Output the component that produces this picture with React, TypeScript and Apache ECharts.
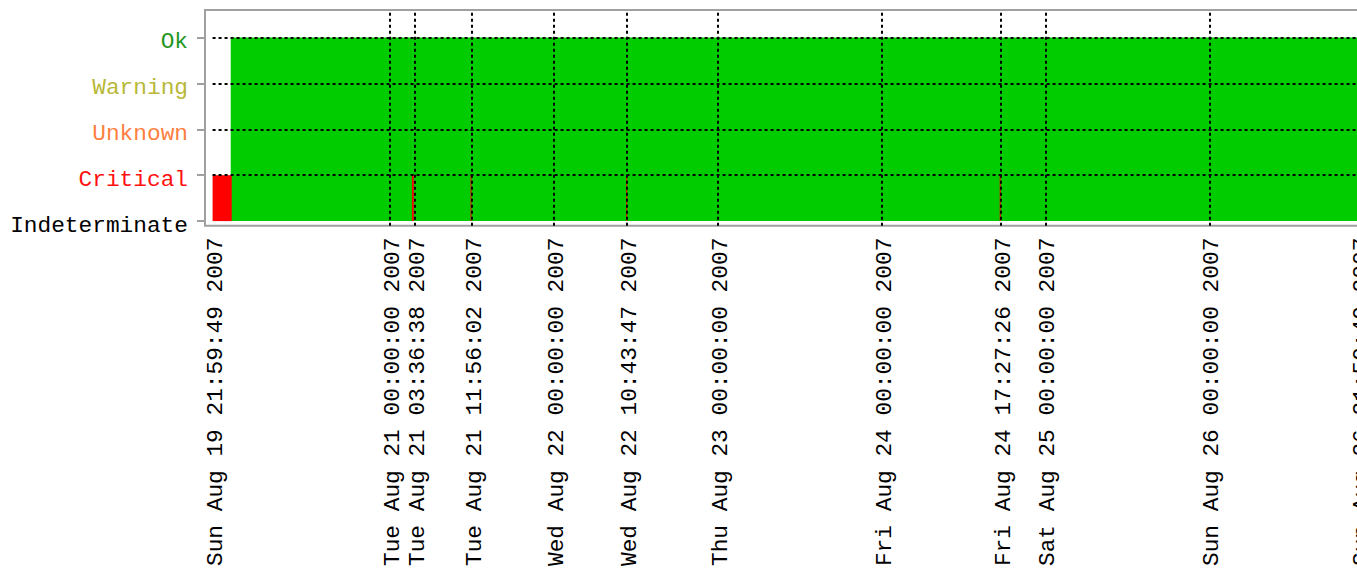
import React, { useEffect, useRef } from "react";
import * as echarts from "echarts";

const S = 1000;
const T = (d: number, h: number, m: number, s: number) => Date.UTC(2007, 7, d, h, m, s);

// Range of the report
const START = T(19, 21, 59, 49);
const END = T(26, 21, 59, 49);
const PAD_SECONDS = 4000;

// State names (y axis categories, bottom to top)
const STATE_NAMES = ["Indeterminate", "Critical", "Unknown", "Warning", "Ok"];
const STATE_LABEL_COLORS = ["#000000", "#ff1010", "#ff7f3f", "#b8b838", "#1f961f"];
const STATE_FILL_COLORS: Record<number, string> = { 1: "#ff0000", 4: "#00cc00" };

// State changes: time and state value (1 = Critical, 4 = Ok)
const CHANGE_TIMES = [
  START,
  T(20, 0, 48, 0),
  T(21, 3, 12, 0),
  T(21, 3, 28, 0),
  T(21, 11, 47, 0),
  T(21, 11, 56, 2),
  T(22, 10, 35, 0),
  T(22, 10, 43, 47),
  T(24, 17, 18, 0),
  T(24, 17, 27, 26),
];
const CHANGE_STATES = [1, 4, 1, 4, 1, 4, 1, 4, 1, 4];

// X axis label ticks
const TICK_TIMES = [
  START,
  T(21, 0, 0, 0),
  T(21, 3, 36, 38),
  T(21, 11, 56, 2),
  T(22, 0, 0, 0),
  T(22, 10, 43, 47),
  T(23, 0, 0, 0),
  T(24, 0, 0, 0),
  T(24, 17, 27, 26),
  T(25, 0, 0, 0),
  T(26, 0, 0, 0),
  END,
];
const GRID_TIMES = TICK_TIMES.slice(1, -1);
const GRID_STATES = [1, 2, 3, 4];

const DAYS = ["Sun", "Mon", "Tue", "Wed", "Thu", "Fri", "Sat"];
const MONTHS = ["Jan", "Feb", "Mar", "Apr", "May", "Jun", "Jul", "Aug", "Sep", "Oct", "Nov", "Dec"];
const p2 = (n: number) => (n < 10 ? "0" + n : "" + n);
const fmt = (v: number) => {
  const d = new Date(v);
  return `${DAYS[d.getUTCDay()]} ${MONTHS[d.getUTCMonth()]} ${p2(d.getUTCDate())} ${p2(
    d.getUTCHours()
  )}:${p2(d.getUTCMinutes())}:${p2(d.getUTCSeconds())} ${d.getUTCFullYear()}`;
};

const FONT = "Liberation Mono";

export default function App() {
  const ref = useRef<HTMLDivElement>(null);
  useEffect(() => {
    if (!ref.current) return;
    const chart = echarts.init(ref.current, undefined, { renderer: "svg" });

    const allSegments = CHANGE_TIMES.map((t, i) => [
      t,
      i + 1 < CHANGE_TIMES.length ? CHANGE_TIMES[i + 1] : END,
      CHANGE_STATES[i],
    ]);
    // draw the Ok areas first, then the Critical ones on top
    const segments = [
      ...allSegments.filter((s) => s[2] !== 1),
      ...allSegments.filter((s) => s[2] === 1),
    ];

    const dash = { color: "#000", type: [3, 3] as number[], width: 2 };
    const markData: any[] = [
      ...GRID_STATES.map((v) => [{ coord: [START, v] }, { coord: [END + PAD_SECONDS * S, v] }]),
      ...GRID_TIMES.map((t) => [{ coord: [t, -0.1] }, { coord: [t, 4.6] }]),
    ];

    chart.setOption({
      animation: false,
      backgroundColor: "#ffffff",
      grid: {
        show: true,
        left: 205,
        top: 10,
        right: 13,
        bottom: 342,
        borderColor: "#a0a0a0",
        borderWidth: 2,
        backgroundColor: "#ffffff",
        containLabel: false,
      },
      xAxis: {
        type: "value",
        min: START - PAD_SECONDS * S,
        max: END + PAD_SECONDS * S,
        axisLine: { show: false },
        axisTick: { show: false },
        splitLine: { show: false },
        axisLabel: {
          customValues: TICK_TIMES,
          rotate: 90,
          margin: 12,
          formatter: (v: number) => fmt(v),
          fontFamily: FONT,
          fontSize: 22.8,
          color: "#000",
          verticalAlign: "top",
          lineHeight: 6,
          showMinLabel: true,
          showMaxLabel: true,
        },
      },
      yAxis: {
        type: "value",
        min: -0.1,
        max: 4.6,
        axisLine: { show: false },
        splitLine: { show: false },
        axisTick: {
          show: true,
          customValues: [0, 1, 2, 3, 4],
          length: 8,
          lineStyle: { color: "#a0a0a0", width: 2 },
        },
        axisLabel: {
          customValues: [0, 1, 2, 3, 4],
          margin: 17,
          fontFamily: FONT,
          fontSize: 22.8,
          verticalAlign: "top",
          lineHeight: 9,
          formatter: (v: number) => STATE_NAMES[Math.round(v)] ?? "",
          color: (v: any) => STATE_LABEL_COLORS[Math.round(Number(v))] ?? "#000",
        },
      },
      series: [
        {
          type: "custom",
          coordinateSystem: "cartesian2d",
          silent: true,
          data: segments,
          encode: { x: [0, 1], y: 2 },
          renderItem: (params: any, api: any) => {
            const s = api.value(0);
            const e = api.value(1);
            const v = api.value(2);
            const p0 = api.coord([s, v]);
            const p1 = api.coord([e, 0]);
            // Ok areas overlap their neighbours slightly, as in the original raster
            const grow = v === 1 ? 0 : 1;
            return {
              type: "rect",
              shape: {
                x: p0[0] - grow,
                y: p0[1],
                width: p1[0] - p0[0] + 2 * grow,
                height: p1[1] - p0[1],
              },
              style: { fill: STATE_FILL_COLORS[v] || "#00cc00" },
            };
          },
          markLine: {
            silent: true,
            symbol: "none",
            label: { show: false },
            lineStyle: dash,
            emphasis: { disabled: true },
            data: markData,
            z: 5,
          },
        },
      ],
    });
    return () => chart.dispose();
  }, []);
  return (
    <div
      ref={ref}
      style={{ position: "fixed", left: 0, top: 0, width: 1380, height: 569, background: "#fff" }}
    />
  );
}
